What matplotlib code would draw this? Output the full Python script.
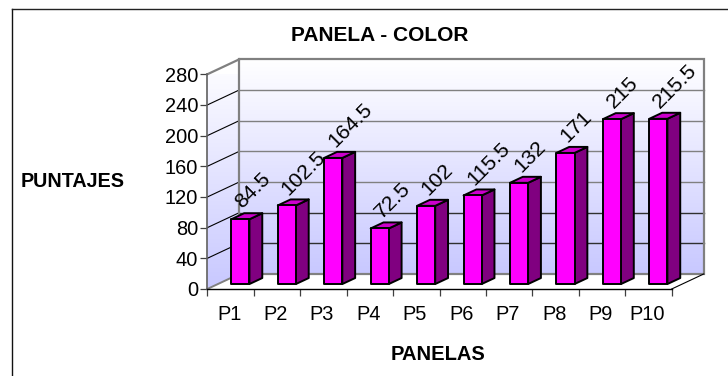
import matplotlib
matplotlib.use("Agg")
import matplotlib.pyplot as plt
import numpy as np
from matplotlib.patches import Polygon, Rectangle
from matplotlib.colors import LinearSegmentedColormap

plt.rcParams["font.family"] = ["Liberation Sans", "DejaVu Sans"]

panelas = ["P1", "P2", "P3", "P4", "P5", "P6", "P7", "P8", "P9", "P10"]
puntajes = [84.5, 102.5, 164.5, 72.5, 102, 115.5, 132, 171, 215, 215.5]
value_labels = ["84.5", "102.5", "164.5", "72.5", "102", "115.5", "132", "171", "215", "215.5"]
y_ticks = [0, 40, 80, 120, 160, 200, 240, 280]

W, H = 728, 376
# full depth of the fake 3D box, in axis units
DEPTH_X = 0.69
DEPTH_Y = 19.6
BAR_W = 0.39


def px_x(x):
    return x / W


def px_y(y):
    return 1 - y / H


def shifted(x, y, depth):
    return x + DEPTH_X * depth, y + DEPTH_Y * depth


def draw_bar(ax, i, value):
    d0, d1 = 0.33, 0.73
    left = i + 0.29
    right = left + BAR_W
    edge = dict(edgecolor="black", linewidth=1.4, joinstyle="round", clip_on=False, zorder=5)

    front = [shifted(left, 0, d0), shifted(right, 0, d0),
             shifted(right, value, d0), shifted(left, value, d0)]
    side = [shifted(right, 0, d0), shifted(right, 0, d1),
            shifted(right, value, d1), shifted(right, value, d0)]
    top = [shifted(left, value, d0), shifted(right, value, d0),
           shifted(right, value, d1), shifted(left, value, d1)]
    ax.add_patch(Polygon(side, facecolor="#800080", **edge))
    ax.add_patch(Polygon(top, facecolor="#cc00cc", **edge))
    ax.add_patch(Polygon(front, facecolor="#ff00ff", **edge))


fig = plt.figure(figsize=(W / 100, H / 100), dpi=100, facecolor="white")

# outer chart frame, only left and top edges are visible
fig.add_artist(plt.Line2D([px_x(11.5), px_x(11.5)], [0, px_y(9)], color="#111111", lw=1.0))
fig.add_artist(plt.Line2D([px_x(11.5), 1], [px_y(9), px_y(9)], color="#222222", lw=1.0))

ax = fig.add_axes([px_x(207.3), px_y(289), (671.7 - 207.3) / W, (289 - 74.3) / H])
ax.set_facecolor("none")

wall_cmap = LinearSegmentedColormap.from_list("wall", ["#ffffff", "#c8c8ff"])
gradient = np.linspace(0, 1, 256).reshape(-1, 1)

# back wall
ax.imshow(gradient, cmap=wall_cmap, aspect="auto", zorder=1, clip_on=False,
          extent=(DEPTH_X, 10 + DEPTH_X, DEPTH_Y, 280 + DEPTH_Y))

# side wall, the gradient is clipped to a parallelogram
side_im = ax.imshow(gradient, cmap=wall_cmap, aspect="auto", zorder=1,
                    extent=(0, DEPTH_X, 0, 280 + DEPTH_Y))
side_wall = Polygon([(0, 0), (DEPTH_X, DEPTH_Y), (DEPTH_X, 280 + DEPTH_Y), (0, 280)],
                    transform=ax.transData, facecolor="none", edgecolor="none")
ax.add_patch(side_wall)
side_im.set_clip_path(side_wall)

ax.set_xlim(0, 10)
ax.set_ylim(0, 280)

for v in y_ticks[1:-1]:
    grid_color = "#303030" if v <= 80 else "#808080"
    ax.plot([DEPTH_X, 10 + DEPTH_X], [v + DEPTH_Y, v + DEPTH_Y], color=grid_color, lw=1.0,
            zorder=2, clip_on=False)
    ax.plot([0, DEPTH_X], [v, v + DEPTH_Y], color="black", lw=0.8, zorder=2, clip_on=False)

# box outline
ax.add_patch(Rectangle((DEPTH_X, DEPTH_Y), 10, 280, facecolor="none", edgecolor="#808080",
                       lw=1.6, zorder=3, clip_on=False))
ax.plot([0, DEPTH_X], [0, DEPTH_Y], color="#808080", lw=1.4, zorder=3, clip_on=False)
ax.plot([0, DEPTH_X], [280, 280 + DEPTH_Y], color="#808080", lw=1.6, zorder=3, clip_on=False)
ax.plot([10, 10 + DEPTH_X], [0, DEPTH_Y], color="black", lw=0.8, zorder=3, clip_on=False)

# floor
ax.add_patch(Polygon([(0, 0), (DEPTH_X, DEPTH_Y), (10 + DEPTH_X, DEPTH_Y), (10, 0)],
                     facecolor="white", edgecolor="none", zorder=1.5, clip_on=False))

for i, (val, txt) in enumerate(zip(puntajes, value_labels)):
    draw_bar(ax, i, val)
    bx, by = shifted(i + 0.29, val, 0.33)
    ax.annotate(txt, (bx, by), xytext=(10, 5), textcoords="offset points",
                rotation=45, rotation_mode="anchor", ha="left", va="bottom",
                fontsize=15.4, color="black", zorder=6, annotation_clip=False)

for name in ["top", "right"]:
    ax.spines[name].set_visible(False)
ax.spines["left"].set_color("#606060")
ax.spines["left"].set_linewidth(1.2)
ax.spines["bottom"].set_color("black")
ax.spines["bottom"].set_linewidth(1.0)
ax.spines["left"].set_zorder(4)
ax.spines["bottom"].set_zorder(4)

ax.set_yticks(y_ticks)
ax.set_xticks(np.arange(0, 11))
ax.set_xticklabels([])
ax.tick_params(axis="y", length=5, width=0.9, color="#404040", labelsize=14.4, pad=1.5)
ax.tick_params(axis="x", length=5, width=0.9, color="#404040")
for i, name in enumerate(panelas):
    ax.annotate(name, (i + 0.5, 0), xytext=(-1, -18), textcoords="offset points", ha="center",
                va="center", fontsize=14.4, annotation_clip=False)

fig.text(px_x(380), px_y(35.5), "PANELA - COLOR", ha="center", va="center", fontsize=15,
         fontweight="bold")
fig.text(px_x(73), px_y(181.5), "PUNTAJES", ha="center", va="center", fontsize=14.2,
         fontweight="bold")
fig.text(px_x(438.5), px_y(354), "PANELAS", ha="center", va="center", fontsize=14.5,
         fontweight="bold")

fig.savefig("out.png", dpi=100)
